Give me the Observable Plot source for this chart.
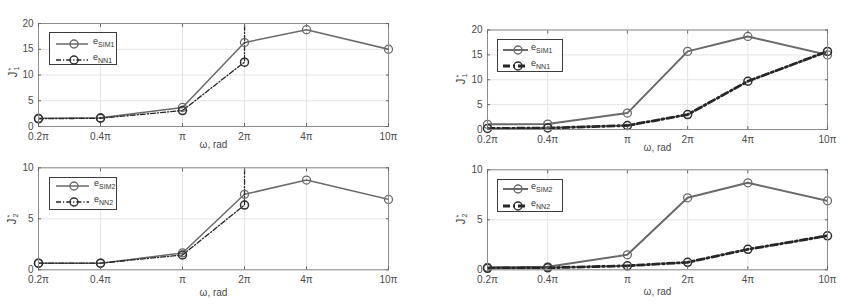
<!DOCTYPE html>
<html><head><meta charset="utf-8">
<script src="https://cdn.jsdelivr.net/npm/d3@7"></script>
<script src="https://cdn.jsdelivr.net/npm/@observablehq/plot@0.6"></script>
<style>
body{margin:0;background:#fff;}
#root{position:relative;width:844px;height:304px;overflow:hidden;background:#fff;font-family:"Liberation Sans",Arial,sans-serif;}
.panel{position:absolute;}
.panel svg{overflow:visible;display:block;}
.legend{position:absolute;background:#fff;border:1px solid #3c3c3c;box-sizing:border-box;}
.row{position:absolute;left:0;height:12px;width:100%;}
.row svg{position:absolute;left:0;top:0;}
.row .lt{position:absolute;top:-3px;font-size:9px;color:#333;white-space:nowrap;line-height:12px;}
.row .lt sub{font-size:7px;vertical-align:-3px;line-height:0;}
.ylab{position:absolute;transform:translate(-50%,-50%) rotate(-90deg);font-size:12px;color:#444;white-space:nowrap;line-height:12px;}
.ss{display:inline-flex;flex-direction:column;font-size:7px;line-height:6px;vertical-align:middle;margin-left:1px;}
</style></head><body><div id="root"></div><script>
// ---- data ----
const omegaOverPi = [0.2, 0.4, 1, 2, 4, 10];
const xTickLabels = ["0.2π", "0.4π", "π", "2π", "4π", "10π"];
const xAxisLabel = "ω, rad";
const yTicksJ1 = [0, 5, 10, 15, 20];
const yTicksJ2 = [0, 5, 10];
// left column
const simJ1Left = [1.6, 1.7, 3.7, 16.3, 18.8, 15.0];
const nnJ1Left  = [1.5, 1.6, 3.1, 12.5, 5000, 5000];
const simJ2Left = [0.65, 0.65, 1.65, 7.4, 8.8, 6.9];
const nnJ2Left  = [0.65, 0.65, 1.45, 6.35, 5000, 5000];
// right column
const simJ1Right = [1.05, 1.1, 3.3, 15.7, 18.7, 15.0];
const nnJ1Right  = [0.2, 0.3, 0.8, 3.0, 9.7, 15.7];
const simJ2Right = [0.25, 0.3, 1.5, 7.2, 8.7, 6.9];
const nnJ2Right  = [0.15, 0.2, 0.4, 0.75, 2.05, 3.4];
const legendJ1 = ["SIM1", "NN1"];
const legendJ2 = ["SIM2", "NN2"];

// ---- layout / style ----
const panels = [
  {sim: simJ1Left, nn: nnJ1Left, yTicks: yTicksJ1, yMax: 20, sub: "1", leg: legendJ1,
   left: 0, top: 0, w: 420, h: 150, ml: 38, mr: 32, mt: 23, mb: 24, lo: 21,
   simW: 1.5, nnW: 1.3, nnDash: "5,2,1.2,2", ylx: 13, yly: 72,
   lg: {x: 49, y: 32, w: 68, h: 33, r1: 5, r2: 21, l0: 6, l1: 38, c: 24, tx: 43}},
  {sim: simJ1Right, nn: nnJ1Right, yTicks: yTicksJ1, yMax: 20, sub: "1", leg: legendJ1,
   left: 420, top: 0, w: 424, h: 150, ml: 67, mr: 17, mt: 29.5, mb: 21, lo: 21,
   simW: 2, nnW: 2.8, nnDash: "7,3,2,3", ylx: 461, yly: 79,
   lg: {x: 497, y: 39, w: 66, h: 33, r1: 4, r2: 20, l0: 5, l1: 30, c: 20, tx: 33}},
  {sim: simJ2Left, nn: nnJ2Left, yTicks: yTicksJ2, yMax: 10, sub: "2", leg: legendJ2,
   left: 0, top: 150, w: 420, h: 154, ml: 38, mr: 32, mt: 17.3, mb: 34.7, lo: 26,
   simW: 1.5, nnW: 1.3, nnDash: "5,2,1.2,2", ylx: 12, yly: 219,
   lg: {x: 49, y: 177, w: 68, h: 33, r1: 2, r2: 18, l0: 6, l1: 39, c: 24, tx: 44}},
  {sim: simJ2Right, nn: nnJ2Right, yTicks: yTicksJ2, yMax: 10, sub: "2", leg: legendJ2,
   left: 420, top: 150, w: 424, h: 154, ml: 67, mr: 17, mt: 19.3, mb: 34.7, lo: 25.5,
   simW: 2, nnW: 2.8, nnDash: "7,3,2,3", ylx: 461, yly: 219,
   lg: {x: 497, y: 179, w: 66, h: 33, r1: 3, r2: 20, l0: 5, l1: 30, c: 20, tx: 33}}
];
const simColor = "#6a6a6a", nnColor = "#262626", gridColor = "#e4e4e4", frameColor = "#8c8c8c";

const root = document.getElementById("root");
const fmtX = d => xTickLabels[omegaOverPi.indexOf(d)];
const blank = () => "";

for (const cfg of panels) {
  const rows = omegaOverPi.map((w, i) => ({w, sim: cfg.sim[i], nn: cfg.nn[i]}));
  const inDomain = k => d => d[k] <= cfg.yMax;
  const plot = Plot.plot({
    width: cfg.w, height: cfg.h,
    marginLeft: cfg.ml, marginRight: cfg.mr, marginTop: cfg.mt, marginBottom: cfg.mb,
    style: {fontFamily: "Liberation Sans, Arial, sans-serif", fontSize: "10px", color: "#4a4a4a", background: "transparent", overflow: "visible"},
    x: {type: "log", domain: [0.2, 10]},
    y: {domain: [0, cfg.yMax]},
    marks: [
      Plot.gridX(omegaOverPi, {stroke: gridColor, strokeOpacity: 1}),
      Plot.gridY(cfg.yTicks, {stroke: gridColor, strokeOpacity: 1}),
      Plot.line(rows, {x: "w", y: "sim", stroke: simColor, strokeWidth: cfg.simW, clip: true}),
      Plot.line(rows, {x: "w", y: "nn", stroke: nnColor, strokeWidth: cfg.nnW, strokeDasharray: cfg.nnDash, clip: true}),
      Plot.dot(rows, {filter: inDomain("sim"), x: "w", y: "sim", r: 4, stroke: simColor, strokeWidth: 1.3, fill: "none"}),
      Plot.dot(rows, {filter: inDomain("nn"), x: "w", y: "nn", r: 4, stroke: "#2e2e2e", strokeWidth: 1.5, fill: "none"}),
      Plot.frame({stroke: frameColor}),
      // x tick labels (text marks so that every label shows on the log scale)
      Plot.text(omegaOverPi, {x: d => d, text: fmtX, frameAnchor: "bottom", lineAnchor: "top", dy: 6.5, fill: "#4a4a4a"}),
      Plot.axisX(omegaOverPi, {tickSize: 0, tickFormat: blank, label: xAxisLabel, labelAnchor: "center", labelOffset: cfg.lo, labelArrow: "none"}),
      Plot.axisX(omegaOverPi, {tickSize: -3, tickFormat: blank, label: null, stroke: "#666"}),
      Plot.axisX(omegaOverPi, {anchor: "top", tickSize: -3, tickFormat: blank, label: null, stroke: "#666"}),
      Plot.axisY(cfg.yTicks, {tickSize: 0, tickPadding: 5, label: null}),
      Plot.axisY(cfg.yTicks, {tickSize: -3, tickFormat: blank, label: null, stroke: "#666"}),
      Plot.axisY(cfg.yTicks, {anchor: "right", tickSize: -3, tickFormat: blank, label: null, stroke: "#666"})
    ]
  });
  const holder = document.createElement("div");
  holder.className = "panel";
  holder.style.left = cfg.left + "px";
  holder.style.top = cfg.top + "px";
  holder.appendChild(plot);
  root.appendChild(holder);

  // y label
  const yl = document.createElement("div");
  yl.className = "ylab";
  yl.style.left = cfg.ylx + "px";
  yl.style.top = cfg.yly + "px";
  yl.innerHTML = `J<span class="ss"><span>*</span><span>${cfg.sub}</span></span>`;
  root.appendChild(yl);

  // legend
  const g = cfg.lg;
  const lg = document.createElement("div");
  lg.className = "legend";
  lg.style.left = g.x + "px"; lg.style.top = g.y + "px";
  lg.style.width = g.w + "px"; lg.style.height = g.h + "px";
  const items = [
    {name: cfg.leg[0], color: simColor, sw: cfg.simW, dash: null, top: g.r1, mc: simColor},
    {name: cfg.leg[1], color: nnColor, sw: cfg.nnW, dash: cfg.nnDash, top: g.r2, mc: "#2e2e2e"}
  ];
  for (const it of items) {
    const row = document.createElement("div");
    row.className = "row";
    row.style.top = it.top + "px";
    row.innerHTML = `<svg width="${g.l1 + 4}" height="12"><line x1="${g.l0}" x2="${g.l1}" y1="6" y2="6" stroke="${it.color}" stroke-width="${it.sw}" ${it.dash ? `stroke-dasharray="${it.dash}"` : ""}/><circle cx="${g.c}" cy="6" r="4" fill="none" stroke="${it.mc}" stroke-width="1.4"/></svg><span class="lt" style="left:${g.tx}px">e<sub>${it.name}</sub></span>`;
    lg.appendChild(row);
  }
  root.appendChild(lg);
}
</script></body></html>
